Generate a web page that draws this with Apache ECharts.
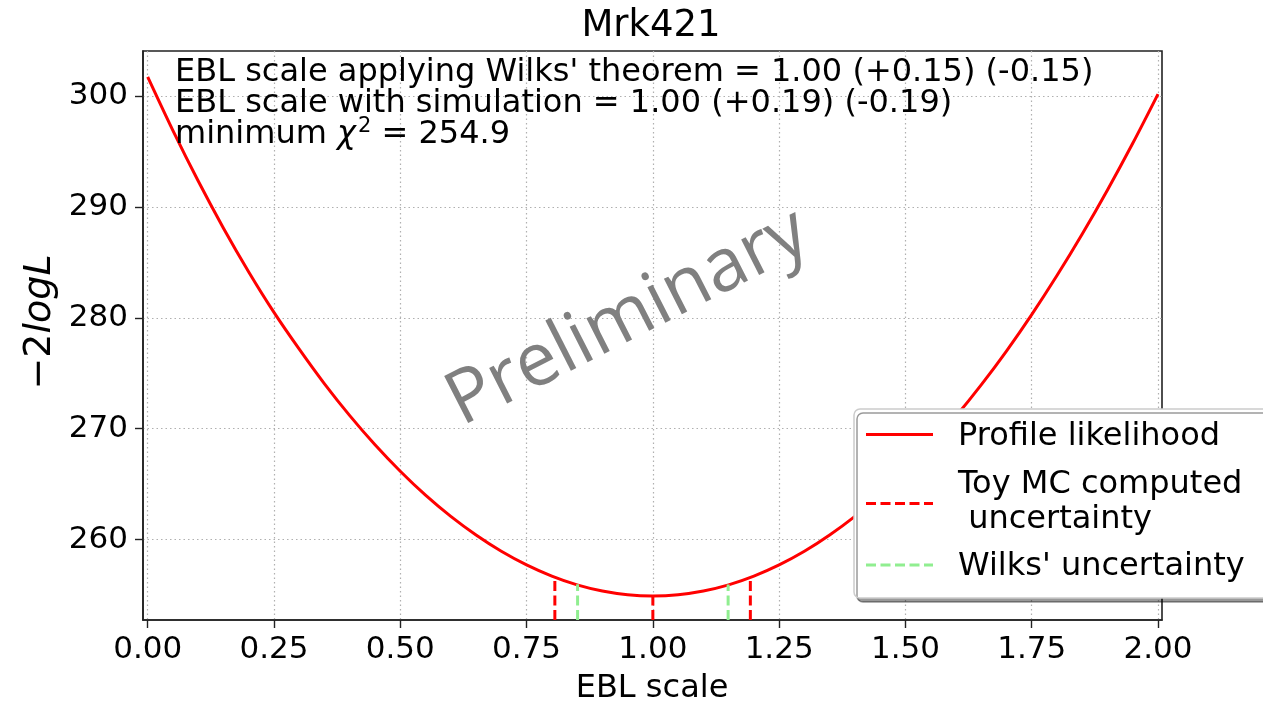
<!DOCTYPE html>
<html>
<head>
<meta charset="utf-8">
<script src="https://cdn.jsdelivr.net/npm/echarts@6/dist/echarts.min.js"></script>
<style>html,body{margin:0;padding:0;background:#fff;}#c{width:1263px;height:703px;}</style>
</head>
<body>
<div id="c"></div>
<script>
// ---- data ----
const ebl = [0.00,0.05,0.10,0.15,0.20,0.25,0.30,0.35,0.40,0.45,0.50,0.55,0.60,0.65,0.70,0.75,0.80,0.85,0.90,0.95,1.00,
             1.05,1.10,1.15,1.20,1.25,1.30,1.35,1.40,1.45,1.50,1.55,1.60,1.65,1.70,1.75,1.80,1.85,1.90,1.95,2.00];
const nll = [301.75,296.9,292.35,288.1,284.15,280.5,277.18,274.05,271.18,268.55,266.16,264.0,262.08,260.4,258.93,257.7,256.69,255.9,255.345,255.01,254.9,
             255.01,255.345,255.9,256.69,257.7,258.93,260.4,262.08,264.0,266.15,268.52,271.12,273.95,277.01,280.3,283.82,287.57,291.55,295.76,300.2];
const toyX = [0.806, 1.000, 1.193];
const toyTop = [256.6, 254.9, 256.66];
const wilksX = [0.851, 1.149];
const wilksTop = [255.95, 255.93];
const xTicks = [0.00,0.25,0.50,0.75,1.00,1.25,1.50,1.75,2.00];
const yTicks = [260,270,280,290,300];
const xMin = -0.0093, xMax = 2.0079, yMin = 252.73, yMax = 304.09;

const FONT = 'DejaVu Sans';
const chart = echarts.init(document.getElementById('c'), null, {renderer: 'canvas'});

const DASH = [10, 4.5];
const series = [];
series.push({
  type: 'line', name: 'Profile likelihood', data: ebl.map((x, i) => [x, nll[i]]),
  showSymbol: false, smooth: 0.3, lineStyle: {color: '#ff0000', width: 3}, z: 3, animation: false
});
toyX.forEach((x, i) => series.push({
  type: 'line', data: [[x, yMin], [x, toyTop[i]]], showSymbol: false,
  lineStyle: {color: '#ff0000', width: 3, type: DASH}, z: 4, animation: false
}));
wilksX.forEach((x, i) => series.push({
  type: 'line', data: [[x, yMin], [x, wilksTop[i]]], showSymbol: false,
  lineStyle: {color: '#90ee90', width: 3, type: DASH}, z: 4, animation: false
}));

const gridLine = {show: true, lineStyle: {color: '#b0b0b0', width: 1.2, type: [1.5, 3]}};
const T = '32px "DejaVu Sans"';

const option = {
  backgroundColor: '#ffffff',
  animation: false,
  grid: {left: 143, right: 101, top: 51, bottom: 83, show: true, borderColor: '#222', borderWidth: 1.6, backgroundColor: 'transparent'},
  xAxis: {
    type: 'value', min: xMin, max: xMax,
    axisLine: {show: true, onZero: false, lineStyle: {color: '#222', width: 1.6}},
    axisTick: {show: true, length: 8, customValues: xTicks, lineStyle: {color: '#222', width: 1.4}},
    axisLabel: {customValues: xTicks, formatter: v => v.toFixed(2), fontFamily: FONT, fontSize: 31, color: '#000', margin: 14},
    splitLine: gridLine
  },
  yAxis: {
    type: 'value', min: yMin, max: yMax,
    axisLine: {show: true, onZero: false, lineStyle: {color: '#222', width: 1.6}},
    axisTick: {show: true, length: 8, customValues: yTicks, lineStyle: {color: '#222', width: 1.4}},
    axisLabel: {customValues: yTicks, formatter: v => String(v), fontFamily: FONT, fontSize: 31, color: '#000', margin: 15, padding: [4, 0, 0, 0]},
    splitLine: gridLine
  },
  series: series,
  graphic: [
    {type: 'text', x: 651, y: 26, style: {text: 'Mrk421', font: '37px "DejaVu Sans"', fill: '#000', align: 'center', verticalAlign: 'middle'}},
    {type: 'text', x: 652, y: 689, style: {text: 'EBL scale', font: T, fill: '#000', align: 'center', verticalAlign: 'middle'}},
    {type: 'text', x: 40, y: 322, rotation: Math.PI / 2, style: {
      text: '{n|−2}{i|logL}', align: 'center', verticalAlign: 'middle',
      rich: {n: {fontFamily: FONT, fontSize: 38, fill: '#000'}, i: {fontFamily: FONT, fontStyle: 'italic', fontSize: 38, fill: '#000'}}
    }},
    {type: 'text', x: 175, y: 73, z: 10, style: {text: "EBL scale applying Wilks' theorem = 1.00 (+0.15) (-0.15)", font: T, fill: '#000', align: 'left', verticalAlign: 'middle'}},
    {type: 'text', x: 175, y: 104, z: 10, style: {text: 'EBL scale with simulation = 1.00 (+0.19) (-0.19)', font: T, fill: '#000', align: 'left', verticalAlign: 'middle'}},
    {type: 'text', x: 175, y: 135, z: 10, style: {
      text: '{a|minimum }{c|χ}{s|2}{a| = 254.9}', align: 'left', verticalAlign: 'middle',
      rich: {a: {fontFamily: FONT, fontSize: 32, fill: '#000'}, c: {fontFamily: FONT, fontStyle: 'italic', fontSize: 32, fill: '#000'},
             s: {fontFamily: FONT, fontSize: 21, fill: '#000', padding: [0, 0, 17, 2]}}
    }},
    {type: 'text', x: 628, y: 318, rotation: 27 * Math.PI / 180, z: 20, style: {
      text: 'Preliminary', font: '74px "Open Sans"', fill: '#808080', align: 'center', verticalAlign: 'middle'}},
    // legend box
    {type: 'rect', z: 30, shape: {x: 854, y: 409, width: 430, height: 189, r: 6},
      style: {fill: '#ffffff', stroke: '#cccccc', lineWidth: 1.5, shadowColor: 'rgba(0,0,0,0.4)', shadowOffsetX: 3, shadowOffsetY: 4, shadowBlur: 0}},
    {type: 'line', z: 31, shape: {x1: 866, y1: 434.5, x2: 933, y2: 434.5}, style: {stroke: '#ff0000', lineWidth: 3}},
    {type: 'text', z: 31, x: 958, y: 437, style: {text: 'Profile likelihood', font: T, fill: '#000', verticalAlign: 'middle'}},
    {type: 'line', z: 31, shape: {x1: 866, y1: 503.5, x2: 933, y2: 503.5}, style: {stroke: '#ff0000', lineWidth: 3, lineDash: DASH}},
    {type: 'text', z: 31, x: 958, y: 485, style: {text: 'Toy MC computed', font: T, fill: '#000', verticalAlign: 'middle'}},
    {type: 'text', z: 31, x: 958, y: 520, style: {text: ' uncertainty', font: T, fill: '#000', verticalAlign: 'middle'}},
    {type: 'line', z: 31, shape: {x1: 866, y1: 565, x2: 933, y2: 565}, style: {stroke: '#90ee90', lineWidth: 3, lineDash: DASH}},
    {type: 'text', z: 31, x: 958, y: 567, style: {text: "Wilks' uncertainty", font: T, fill: '#000', verticalAlign: 'middle'}}
  ]
};
chart.setOption(option);
</script>
</body>
</html>
